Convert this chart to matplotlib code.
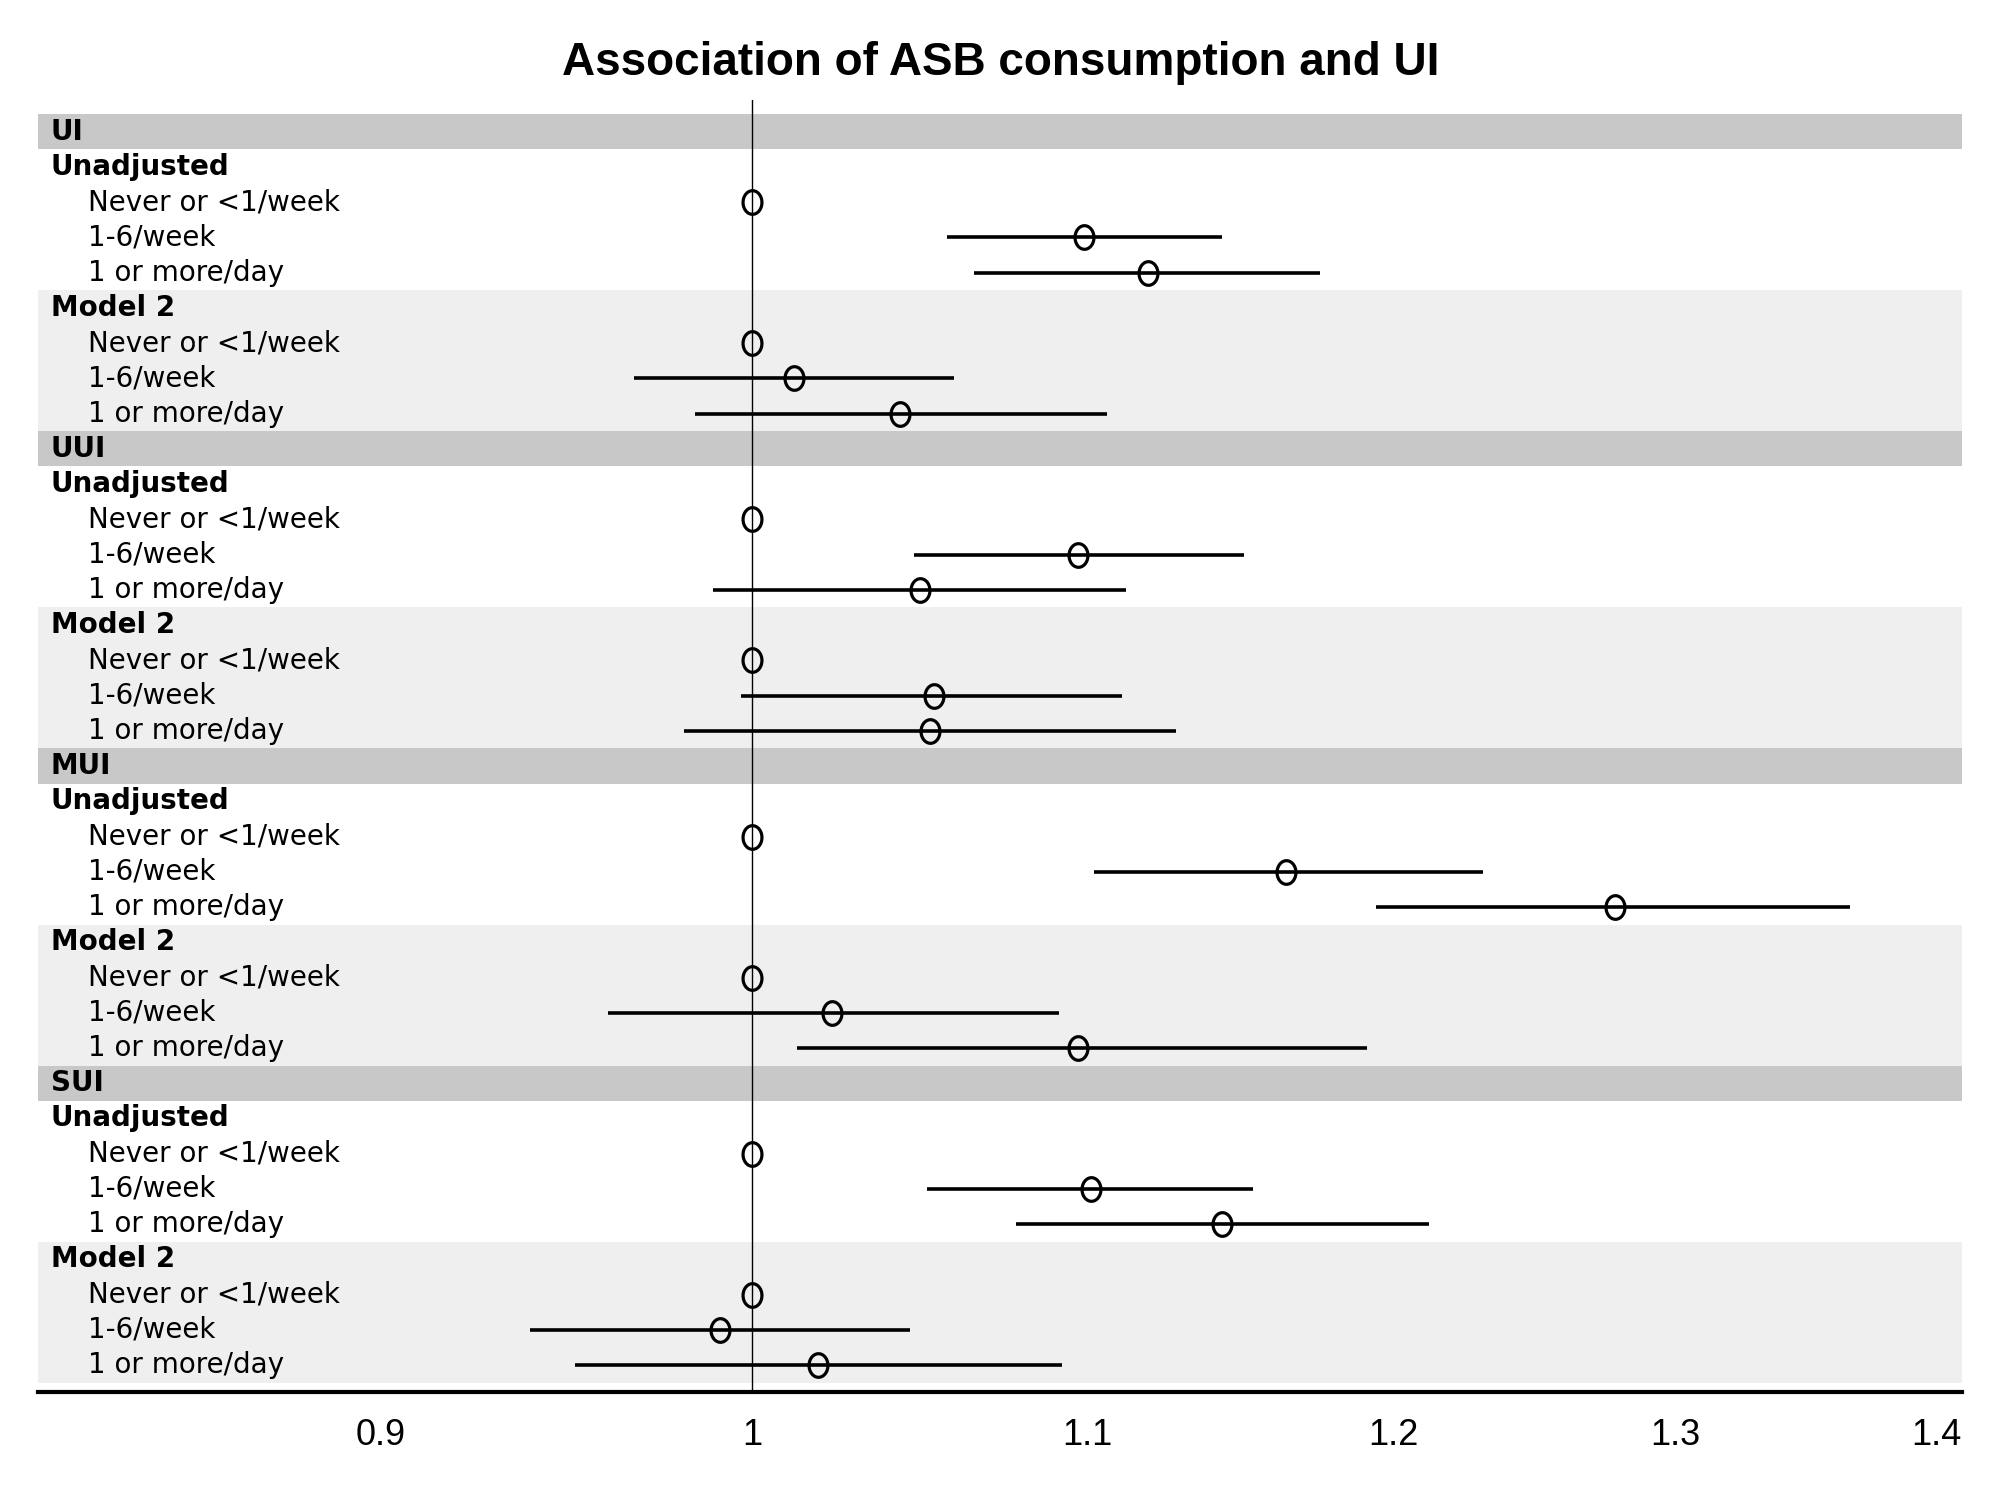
import matplotlib
matplotlib.use("Agg")
import matplotlib.pyplot as plt
from matplotlib.path import Path
import numpy as np

# ---- data ----
outcomes = ["UI", "UUI", "MUI", "SUI"]
models = ["Unadjusted", "Model 2"]
levels = ["Never or <1/week", "1-6/week", "1 or more/day"]

# estimates per outcome, per model, per level (reference = 1)
est_ui = [[1.0, 1.099, 1.119], [1.0, 1.012, 1.043]]
lo_ui = [[1.0, 1.057, 1.065], [1.0, 0.967, 0.984]]
hi_ui = [[1.0, 1.143, 1.175], [1.0, 1.059, 1.106]]

est_uui = [[1.0, 1.097, 1.049], [1.0, 1.053, 1.052]]
lo_uui = [[1.0, 1.047, 0.989], [1.0, 0.997, 0.981]]
hi_uui = [[1.0, 1.150, 1.112], [1.0, 1.111, 1.128]]

est_mui = [[1.0, 1.164, 1.278], [1.0, 1.023, 1.097]]
lo_mui = [[1.0, 1.102, 1.194], [1.0, 0.960, 1.013]]
hi_mui = [[1.0, 1.231, 1.366], [1.0, 1.091, 1.191]]

est_sui = [[1.0, 1.101, 1.143], [1.0, 0.991, 1.019]]
lo_sui = [[1.0, 1.051, 1.078], [1.0, 0.939, 0.951]]
hi_sui = [[1.0, 1.153, 1.212], [1.0, 1.046, 1.092]]

ticks = [0.9, 1.0, 1.1, 1.2, 1.3, 1.4]
tick_labels = ["0.9", "1", "1.1", "1.2", "1.3", "1.4"]
title = "Association of ASB consumption and UI"

ests = [est_ui, est_uui, est_mui, est_sui]
los = [lo_ui, lo_uui, lo_mui, lo_sui]
his = [hi_ui, hi_uui, hi_mui, hi_sui]

# ---- figure ----
fig = plt.figure(figsize=(19.94, 14.94), dpi=100)
ax = fig.add_axes([0.01906, 0.0683, 0.9649, 0.8648])
ax.set_xscale("log")
ax.set_xlim(0.8164, 1.4103)

label_font = ["DejaVu Sans"]
fs = 20
trans = ax.get_yaxis_transform()  # x in axes coords, y in data

row = 0
pts_y, pts_x, pts_lo, pts_hi = [], [], [], []
for oi, outc in enumerate(outcomes):
    ax.axhspan(row - 0.5, row + 0.5, color="#c8c8c8", lw=0, zorder=0)
    ax.text(0.0067, row, outc, transform=trans, ha="left",
            va="center", fontsize=fs, fontweight="bold", family=label_font)
    row += 1
    for mi, m in enumerate(models):
        if mi == 1:
            ax.axhspan(row - 0.5, row + 3.5, color="#efefef", lw=0, zorder=0)
        ax.text(0.0067, row, m, transform=trans, ha="left", va="center",
                fontsize=fs, fontweight="bold", family=label_font)
        row += 1
        for li, lv in enumerate(levels):
            ax.text(0.0259, row, lv, transform=trans, ha="left", va="center",
                    fontsize=fs, family=label_font)
            pts_y.append(row)
            pts_x.append(ests[oi][mi][li])
            pts_lo.append(los[oi][mi][li])
            pts_hi.append(his[oi][mi][li])
            row += 1

n_rows = row
ax.set_ylim(n_rows - 0.24, -0.9)

# slightly tall ellipse marker
theta = np.linspace(0, 2 * np.pi, 60)
ell = Path(np.column_stack([0.8 * np.cos(theta), np.sin(theta)]), closed=True)

ax.axvline(1.0, color="black", lw=1.0, zorder=1)
ax.hlines(pts_y, pts_lo, pts_hi, color="black", lw=2.6, zorder=2)
ax.plot(pts_x, pts_y, linestyle="none", marker=ell, markersize=17,
        markerfacecolor="none", markeredgecolor="black", markeredgewidth=2.3,
        zorder=3)

ax.set_yticks([])
ax.set_xticks(ticks)
ax.set_xticklabels(tick_labels, family=["Liberation Sans", "DejaVu Sans"],
                   fontsize=26)
ax.xaxis.set_minor_locator(matplotlib.ticker.NullLocator())
ax.tick_params(axis="x", length=0, pad=19)
for s in ["top", "left", "right"]:
    ax.spines[s].set_visible(False)
ax.spines["bottom"].set_linewidth(3)

fig.text(0.502, 0.958, title, ha="center", va="center", fontsize=33,
         fontweight="bold", family=["Liberation Sans", "DejaVu Sans"])

fig.savefig("out.png", dpi=100)
